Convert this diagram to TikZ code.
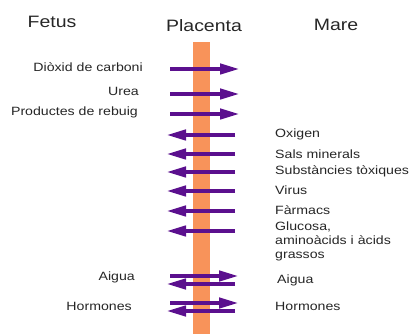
\documentclass[tikz,border=0pt]{standalone}
\usepackage{fontspec}
\setmainfont{Liberation Sans}
\usepackage{graphicx}
\usetikzlibrary{arrows.meta}
\definecolor{placentaorange}{HTML}{F8935A}
\definecolor{flowpurple}{HTML}{5B108E}
\newcommand{\widetext}[1]{\scalebox{1.18}[1]{#1}}
\tikzset{
  head/.style={font=\fontsize{16.5}{18}\selectfont,text=black!85},
  lbl/.style={font=\fontsize{12}{14}\selectfont,inner sep=0pt,text=black!85},
  flow/.style={line width=4.2pt,flowpurple,-{Triangle[length=20pt,width=10pt]}}
}

\begin{document}
\begin{tikzpicture}[x=1pt,y=-1pt]
\useasboundingbox (0,0) rectangle (410,334);
%% placenta
\fill[placentaorange](193,42) rectangle (210,334);
\node[head](fetus) at (52,22){\widetext{Fetus}};
\node[head](placenta) at (204,26){\widetext{Placenta}};
\node[head](mare) at (336,25){\widetext{Mare}};
%% fetus -> mare
\node[lbl,anchor=east](co2) at (143,67){\widetext{Diòxid de carboni}};
\node[lbl,anchor=east](urea) at (139,91){\widetext{Urea}};
\node[lbl,anchor=east](rebuig) at (138,112){\widetext{Productes de rebuig}};
\foreach \n/\y in {co2/69,urea/94,rebuig/114}{
  \coordinate(\n-a) at (170,\y);
  \coordinate(\n-b) at (240,\y);
  \draw[flow](\n-a)--(\n-b);
}
%% mare -> fetus
\node[lbl,anchor=west](oxigen) at (275,134){\widetext{Oxigen}};
\node[lbl,anchor=west](sals) at (275,154){\widetext{Sals minerals}};
\node[lbl,anchor=west](toxiques) at (275,171){\widetext{Substàncies tòxiques}};
\node[lbl,anchor=west](virus) at (275,190){\widetext{Virus}};
\node[lbl,anchor=west](farmacs) at (275,210){\widetext{Fàrmacs}};
\node[lbl,anchor=north west,align=left](glucosa) at (275,222){\widetext{Glucosa,}\\\widetext{aminoàcids i àcids}\\\widetext{grassos}};
\foreach \n/\y in {oxigen/135,sals/154,toxiques/172,virus/191,farmacs/211,glucosa/231}{
  \coordinate(\n-a) at (235,\y);
  \coordinate(\n-b) at (166,\y);
  \draw[flow](\n-a)--(\n-b);
}
%% both ways
\node[lbl,anchor=east](aigua-f) at (135,277){\widetext{Aigua}};
\node[lbl,anchor=west](aigua-m) at (277,280){\widetext{Aigua}};
\node[lbl,anchor=east](horm-f) at (132,306){\widetext{Hormones}};
\node[lbl,anchor=west](horm-m) at (275,306){\widetext{Hormones}};
\foreach \n/\y in {aigua/276,horm/303}{
  \coordinate(\n-a) at (170,\y);
  \coordinate(\n-b) at (239,\y);
  \coordinate(\n-c) at (235,\y+8);
  \coordinate(\n-d) at (166,\y+8);
  \draw[flow](\n-a)--(\n-b);
  \draw[flow](\n-c)--(\n-d);
}
\end{tikzpicture}
\end{document}
